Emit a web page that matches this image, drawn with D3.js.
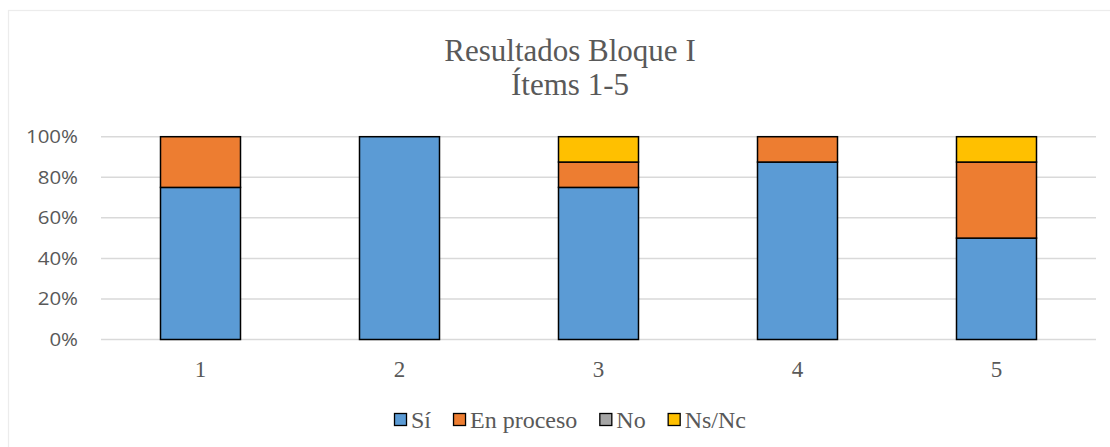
<!DOCTYPE html>
<html>
<head>
<meta charset="utf-8">
<script src="https://cdn.jsdelivr.net/npm/d3@7"></script>
<style>
  html, body { margin: 0; padding: 0; background: #fff; }
  svg { display: block; }
</style>
</head>
<body>
<svg id="chart" width="1110" height="447"></svg>
<script>
// Items of block I
const categories = ["1", "2", "3", "4", "5"];
// Answer shares per item (fractions of 1)
const si         = [0.75, 1.00, 0.75, 0.875, 0.50];
const enProceso  = [0.25, 0.00, 0.125, 0.125, 0.375];
const no         = [0.00, 0.00, 0.00, 0.00, 0.00];
const nsNc       = [0.00, 0.00, 0.125, 0.00, 0.125];
const seriesNames = ["Sí", "En proceso", "No", "Ns/Nc"];
const yTicks = [0, 0.2, 0.4, 0.6, 0.8, 1.0];
const titleLines = ["Resultados Bloque I", "Ítems 1-5"];

const colors = ["#5b9bd5", "#ed7d31", "#a5a5a5", "#ffc000"];
const textColor = "#595959";
const serif = "'Liberation Serif', 'Times New Roman', serif";

const svg = d3.select("#chart");

// outer chart frame
svg.append("rect")
  .attr("x", 8.5).attr("y", 10.5)
  .attr("width", 1130).attr("height", 460)
  .attr("fill", "#fff").attr("stroke", "#ececec").attr("stroke-width", 1.2);

const plot = { left: 101, right: 1096, top: 136.7, bottom: 339.5 };

const x = d3.scaleBand()
  .domain(categories)
  .range([plot.left, plot.right])
  .paddingInner(0.598)
  .paddingOuter(0.299);

const y = d3.scaleLinear()
  .domain([0, 1])
  .range([plot.bottom, plot.top]);

// gridlines
svg.append("g")
  .selectAll("line")
  .data(yTicks)
  .join("line")
  .attr("x1", plot.left).attr("x2", plot.right)
  .attr("y1", d => y(d)).attr("y2", d => y(d))
  .attr("stroke", "#d9d9d9").attr("stroke-width", 1.5);

// y tick labels (slightly widened sans face)
const yStretch = 1.17;
svg.append("g")
  .attr("font-family", "'Open Sans', 'Noto Sans', sans-serif")
  .attr("font-size", 17.5)
  .attr("fill", textColor)
  .attr("text-anchor", "end")
  .selectAll("text")
  .data(yTicks)
  .join("text")
  .attr("transform", d => `translate(78,${y(d) + 6.3}) scale(${yStretch},1)`)
  .text(d => d3.format(".0%")(d));

// stacked bars
const rows = categories.map((c, i) => ({
  cat: c, "Sí": si[i], "En proceso": enProceso[i], "No": no[i], "Ns/Nc": nsNc[i]
}));
const stacked = d3.stack().keys(seriesNames)(rows);

svg.append("g")
  .selectAll("g")
  .data(stacked)
  .join("g")
  .attr("fill", (d, i) => colors[i])
  .selectAll("rect")
  .data(d => d.filter(p => p[1] - p[0] > 0))
  .join("rect")
  .attr("x", d => x(d.data.cat))
  .attr("width", x.bandwidth())
  .attr("y", d => y(d[1]))
  .attr("height", d => y(d[0]) - y(d[1]))
  .attr("stroke", "#000")
  .attr("stroke-width", 1.5);

// category labels
svg.append("g")
  .attr("font-family", serif)
  .attr("font-size", 23)
  .attr("fill", textColor)
  .attr("text-anchor", "middle")
  .selectAll("text")
  .data(categories)
  .join("text")
  .attr("x", d => x(d) + x.bandwidth() / 2)
  .attr("y", 377)
  .text(d => d);

// title
svg.append("g")
  .attr("font-family", serif)
  .attr("font-size", 31)
  .attr("fill", textColor)
  .attr("text-anchor", "middle")
  .selectAll("text")
  .data(titleLines)
  .join("text")
  .attr("x", 570)
  .attr("y", (d, i) => 61 + i * 34)
  .text(d => d);

// legend
const legendG = svg.append("g")
  .attr("font-family", serif)
  .attr("font-size", 24)
  .attr("fill", textColor);
const items = [];
let cx = 0;
seriesNames.forEach((name, i) => {
  const it = legendG.append("g");
  it.append("rect")
    .attr("x", 0.5).attr("y", -14.5)
    .attr("width", 12).attr("height", 12)
    .attr("fill", colors[i]).attr("stroke", "#000").attr("stroke-width", 1.3);
  const t = it.append("text").attr("x", 17).attr("y", 0).text(name);
  const w = 17 + t.node().getComputedTextLength();
  items.push({ it, x: cx });
  cx += w + 22;
});
const legendWidth = cx - 22;
const legendStart = 570 - legendWidth / 2;
items.forEach(d => d.it.attr("transform", `translate(${legendStart + d.x},428)`));
</script>
</body>
</html>
